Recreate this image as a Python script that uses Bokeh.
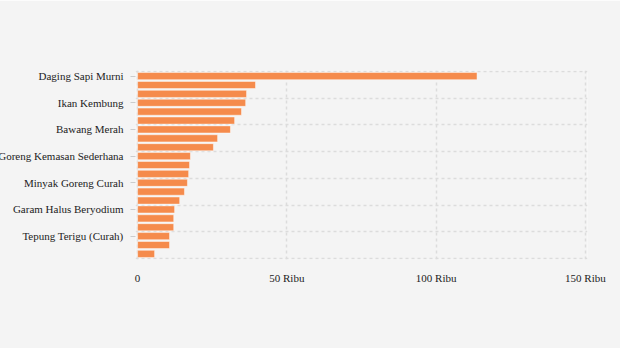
from bokeh.plotting import figure
from bokeh.models import ColumnDataSource, FixedTicker, Range1d
from bokeh.embed import file_html
from bokeh.resources import INLINE

# Data (Rp per unit)
komoditas = [
    "Daging Sapi Murni", "Daging Ayam Ras", "Cabai Rawit Merah",
    "Ikan Kembung", "Bawang Putih Bonggol", "Cabai Merah Keriting",
    "Bawang Merah", "Telur Ayam Ras", "Ikan Tongkol",
    "Minyak Goreng Kemasan Sederhana", "Gula Konsumsi", "Tepung Terigu (Kemasan)",
    "Minyak Goreng Curah", "Beras Premium", "Beras Medium",
    "Garam Halus Beryodium", "Kedelai Biji Kering (Impor)", "Garam Kasar",
    "Tepung Terigu (Curah)", "Ikan Bandeng", "Jagung Pipilan Kering",
]
harga = [
    113700, 39500, 36500,
    36200, 34800, 32500,
    31100, 26800, 25400,
    17700, 17400, 17100,
    16700, 15700, 14100,
    12400, 12100, 12100,
    10700, 10700, 5700,
]
x_ticks = [0, 50000, 100000, 150000]
x_tick_labels = ["0", "50 Ribu", "100 Ribu", "150 Ribu"]

n = len(komoditas)
idx = list(range(n))
source = ColumnDataSource(dict(y=idx, harga=harga, nama=komoditas))

BG = "#f4f4f4"
FONT = "Liberation Serif"
TXT = "#222222"

SHIFT = 45
PAD_X = 700      # small padding so edge grid lines are fully visible
PAD_Y = 0.13

p = figure(
    width=620 + SHIFT, height=348,
    x_range=Range1d(-PAD_X, 150000 + PAD_X),
    y_range=Range1d(n - 0.5 + PAD_Y, -0.5 - PAD_Y),
    output_backend="svg", toolbar_location=None,
    min_border_left=180, min_border_right=33, min_border_top=70, min_border_bottom=89,
    background_fill_color=BG, border_fill_color=BG, outline_line_color=None,
)
p.styles = {"margin-left": f"-{SHIFT}px"}

# grids (drawn under the bars)
p.xgrid.ticker = FixedTicker(ticks=x_ticks)
p.ygrid.ticker = FixedTicker(ticks=[i - 0.5 for i in range(0, n + 1, 3)])
for g in (p.xgrid[0], p.ygrid[0]):
    g.grid_line_color = "#dcdcdc"
    g.grid_line_dash = "3 3"
    g.grid_line_width = 1.5

p.hbar(y="y", left=0, right="harga", height=0.8, source=source,
       fill_color="#f58b4c", line_color="white", line_alpha=0.45, line_width=1)

# x axis
xa = p.xaxis[0]
xa.ticker = FixedTicker(ticks=x_ticks)
xa.major_label_overrides = {t: l for t, l in zip(x_ticks, x_tick_labels)}
xa.axis_line_color = None
xa.major_tick_line_color = None
xa.minor_tick_line_color = None
xa.major_label_standoff = 6
xa.major_label_text_font = FONT
xa.major_label_text_font_size = "11px"
xa.major_label_text_color = TXT

# y axis: label every third category
ya = p.yaxis[0]
shown = list(range(0, n, 3))
ya.ticker = FixedTicker(ticks=shown)
ya.major_label_overrides = {i: komoditas[i] for i in shown}
ya.axis_line_color = None
ya.major_tick_line_color = "#cccccc"
ya.major_tick_out = 5
ya.major_tick_in = 0
ya.minor_tick_line_color = None
ya.major_label_standoff = 7
ya.major_label_text_font = FONT
ya.major_label_text_font_size = "11px"
ya.major_label_text_color = TXT

open("out.html", "w").write(file_html(p, INLINE))
